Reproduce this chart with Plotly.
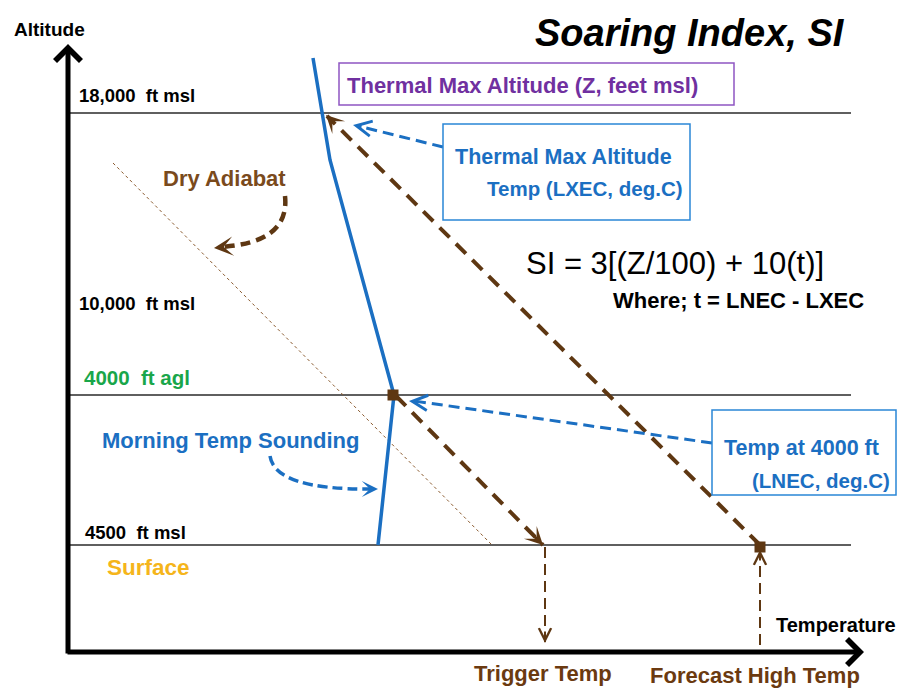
import plotly.graph_objects as go

# ---------------- diagram data (schematic coordinates: x = temperature, y = altitude, top-down) -------------
level_names = ["18,000  ft msl", "10,000  ft msl", "4000  ft agl", "4500  ft msl"]
level_lines_y = [113, 395, 545]          # 18,000 ft msl, 4000 ft agl, surface (4500 ft msl)
level_line_x = [68, 851]

sounding_x = [313, 322, 330, 394, 378]   # morning temp sounding
sounding_y = [58, 113, 160, 395, 545]

adiabat_x = [113, 492]                   # reference dry adiabat
adiabat_y = [163, 545]

trigger_x = [396, 543]                   # dry adiabat from 4000 ft agl point down to surface
trigger_y = [396, 545]
trigger_drop_x = [545, 545]
trigger_drop_y = [547, 642]

high_x = [760, 327]                      # dry adiabat from forecast high up to thermal max altitude
high_y = [545, 116]
high_rise_x = [760, 760]
high_rise_y = [645, 552]

points_x = [393, 760]                    # square markers (LNEC point, forecast high point)
points_y = [395, 547]

BROWN = "#5e3712"
BLUE = "#1b6fc2"
FONT = "Liberation Sans, Arial, sans-serif"

fig = go.Figure()

for ly in level_lines_y:
    fig.add_trace(go.Scatter(x=level_line_x, y=[ly, ly], mode="lines",
                             line=dict(color="#2a2a2a", width=1.3), hoverinfo="skip"))

fig.add_trace(go.Scatter(x=adiabat_x, y=adiabat_y, mode="lines",
                         line=dict(color="#8a5a2e", width=1, dash="3px,3px"), hoverinfo="skip"))

fig.add_trace(go.Scatter(x=sounding_x, y=sounding_y, mode="lines",
                         line=dict(color=BLUE, width=3.5), hoverinfo="skip"))

for xs, ys, w, d in [(trigger_x, trigger_y, 4, "14px,9px"),
                     (high_x, high_y, 4, "14px,9px"),
                     (trigger_drop_x, trigger_drop_y, 2, "11px,6px"),
                     (high_rise_x, high_rise_y, 2, "11px,6px")]:
    fig.add_trace(go.Scatter(x=xs, y=ys, mode="lines",
                             line=dict(color=BROWN, width=w, dash=d), hoverinfo="skip"))

fig.add_trace(go.Scatter(x=[443, 358], y=[147, 126], mode="lines",
                         line=dict(color=BLUE, width=3, dash="11px,6px"), hoverinfo="skip"))
fig.add_trace(go.Scatter(x=[712, 414], y=[443, 401], mode="lines",
                         line=dict(color=BLUE, width=3, dash="11px,6px"), hoverinfo="skip"))

fig.add_trace(go.Scatter(x=points_x, y=points_y, mode="markers",
                         marker=dict(symbol="square", size=11, color=BROWN), hoverinfo="skip"))

shapes = []
shapes.append(dict(type="path", xref="x", yref="y", path="M 285,196 Q 290,243 220,247",
                   line=dict(color=BROWN, width=4.5, dash="10px,6px")))
shapes.append(dict(type="path", xref="x", yref="y", path="M 270,456 Q 275,490 372,489",
                   line=dict(color=BLUE, width=3.5, dash="10px,5px")))
shapes.append(dict(type="rect", xref="x", yref="y", x0=339, x1=734, y0=63, y1=105,
                   line=dict(color="#8e56c2", width=1.5), fillcolor="white"))
shapes.append(dict(type="rect", xref="x", yref="y", x0=443, x1=690, y0=124, y1=220,
                   line=dict(color="#2a86d6", width=1.5), fillcolor="white"))
shapes.append(dict(type="rect", xref="x", yref="y", x0=712, x1=896, y0=410, y1=495,
                   line=dict(color="#2a86d6", width=1.5), fillcolor="white"))

ann = []
def arrow(x, y, ax, ay, color, width, head, size=1.0):
    ann.append(dict(x=x, y=y, ax=ax, ay=ay, xref="x", yref="y", axref="x", ayref="y",
                    showarrow=True, arrowhead=head, arrowwidth=width, arrowsize=size,
                    arrowcolor=color, text="", standoff=0, startstandoff=0))

arrow(68, 44, 68, 655, "black", 5, 4, 1.0)
arrow(864, 652, 66, 652, "black", 5, 4, 1.0)
arrow(543, 545, 533, 535, BROWN, 3, 3, 1.0)
arrow(326, 115, 336, 125, BROWN, 3, 3, 1.0)
arrow(545, 643, 545, 630, BROWN, 2, 5, 1.2)
arrow(760, 550, 760, 562, BROWN, 2, 5, 1.2)
arrow(353, 125, 363, 127, BLUE, 3, 5, 1.0)
arrow(409, 401, 419, 402, BLUE, 3, 5, 1.0)
arrow(214, 248, 224, 247, BROWN, 4, 3, 0.8)
arrow(378, 489, 368, 489, BLUE, 3, 3, 0.9)

def text(x, y, s, size, color="black", bold=True, italic=False, xanchor="center"):
    ann.append(dict(x=x, y=y, xref="x", yref="y", text=s, showarrow=False,
                    xanchor=xanchor, yanchor="middle",
                    font=dict(family=FONT, size=size, color=color,
                              weight="bold" if bold else "normal",
                              style="italic" if italic else "normal")))

text(690, 33, "Soaring Index, SI", 38, italic=True)
text(49, 29, "Altitude", 19)
text(77, 95, level_names[0], 18.5, xanchor="left")
text(77, 303, level_names[1], 18.5, xanchor="left")
text(82, 377, level_names[2], 20.5, color="#19a64a", xanchor="left")
text(83, 532, level_names[3], 18.5, xanchor="left")
text(148, 567, "Surface", 22.5, color="#f5b51b")
text(224, 178, "Dry Adiabat", 22, color="#7a4a1c")
text(230, 440, "Morning Temp Sounding", 22, color=BLUE)
text(522, 85, "Thermal Max Altitude (Z, feet msl)", 22, color="#7030a0")
text(563, 157, "Thermal Max Altitude", 21.5, color=BLUE)
text(585, 188, "Temp (LXEC, deg.C)", 20.5, color=BLUE)
text(675, 263, "SI = 3[(Z/100) + 10(t)]", 31, bold=False)
text(738, 300, "Where; t = LNEC - LXEC", 22)
text(801, 448, "Temp at 4000 ft", 21.5, color=BLUE)
text(821, 480, "(LNEC, deg.C)", 20.5, color=BLUE)
text(836, 625, "Temperature", 20)
text(543, 673, "Trigger Temp", 22, color="#6b3a10")
text(755, 675, "Forecast High Temp", 22, color="#6b3a10")

fig.update_layout(
    width=898, height=688, margin=dict(l=0, r=0, t=0, b=0),
    paper_bgcolor="white", plot_bgcolor="white", showlegend=False,
    xaxis=dict(range=[0, 898], visible=False, fixedrange=True),
    yaxis=dict(range=[688, 0], visible=False, fixedrange=True),
    shapes=shapes, annotations=ann,
)
fig.write_html("out.html", config={"displayModeBar": False},
               post_script="document.body.style.margin='0';document.body.style.overflow='hidden';")
